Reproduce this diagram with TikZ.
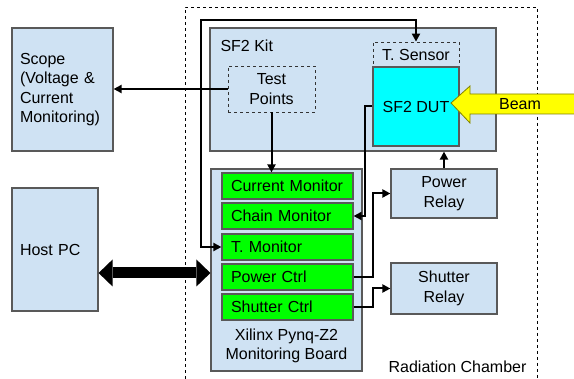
\documentclass[tikz,border=0pt]{standalone}
\usepackage{fontspec}
\setmainfont{Liberation Sans}
\usetikzlibrary{arrows.meta, positioning}
\definecolor{boxBlue}{HTML}{CFE2F3}
\definecolor{boxEdge}{HTML}{595959}
\definecolor{monGreen}{HTML}{00FF00}
\definecolor{dutCyan}{HTML}{00FFFF}
\definecolor{beamYellow}{HTML}{FFFF00}
\definecolor{beamEdge}{HTML}{7F7F00}

\begin{document}
\begin{tikzpicture}[x=1pt, y=-1pt,
    font=\fontsize{16}{19.5}\selectfont,
    blk/.style={draw=boxEdge, line width=1.2pt, fill=boxBlue, inner sep=0pt},
    dashbox/.style={draw=black!80, dashed, line width=0.8pt, inner sep=0pt},
    mon/.style={draw=boxEdge, line width=1.2pt, fill=monGreen, minimum width=131,
      minimum height=26, inner xsep=9pt, inner ysep=0pt, text width=113, align=left},
    wire/.style={line width=2pt, -{Triangle[length=8pt, width=8pt]}}]
    \useasboundingbox (0,0) rectangle (574,379);

    % Radiation chamber
    \draw[dash pattern=on 3pt off 3pt, line width=0.8pt] (185,385) -- (185,7) -- (537,7) -- (537,385);
    \node[anchor=base east] (chamberlbl) at (530,373) {Radiation Chamber};

    % Scope y Host PC
    \node[blk, minimum width=101, minimum height=123, inner xsep=8pt, text width=85, align=left]
      (scope) at (62.5,89.5) {Scope\\(Voltage \&\\Current\\Monitoring)};
    \node[blk, minimum width=86, minimum height=123, inner xsep=8pt, text width=70, align=left]
      (host) at (55,249.5) {Host PC};

    % SF2 Kit
    \node[blk, minimum width=286, minimum height=123] (kit) at (353,89.5) {};
    \node[anchor=base west] (kitlbl) at (217,52) {SF2 Kit};
    \node[dashbox, minimum width=87, minimum height=46, align=center] (tp) at (271.5,89) {Test\\Points};
    \node[dashbox, minimum width=86, minimum height=25] (tsens) at (416,54.5) {T. Sensor};
    \node[draw=boxEdge, line width=1.2pt, fill=dutCyan, minimum width=86, minimum height=79]
      (dut) at (416,106.5) {SF2 DUT};

    % Beam
    \filldraw[fill=beamYellow, draw=beamEdge, line width=0.8pt] (451,103) -- (470,86) -- (470,94)
      -- (580,94) -- (580,114) -- (470,114) -- (470,123) -- cycle;
    \node (beamlbl) at (520,104) {Beam};

    % Pynq board
    \node[blk, minimum width=151, minimum height=202] (board) at (286.5,270) {};
    \node[mon] (curmon) at (287.5,186) {Current Monitor};
    \node[mon] (chmon) at (287.5,216) {Chain Monitor};
    \node[mon] (tmon) at (287.5,247) {T. Monitor};
    \node[mon] (pctrl) at (287.5,277) {Power Ctrl};
    \node[mon] (sctrl) at (287.5,307) {Shutter Ctrl};
    \node[align=center] (boardlbl) at (286.5,346) {Xilinx Pynq-Z2\\Monitoring Board};

    % Relays
    \node[blk, minimum width=106, minimum height=49, align=center] (prelay) at (444,193.5) {Power\\Relay};
    \node[blk, minimum width=106, minimum height=51, align=center] (srelay) at (444,288.5) {Shutter\\Relay};

    % Conexiones
    \coordinate (loop) at (201,20);
    \draw[wire] (tp.west) -- (tp.west -| scope.east);
    \draw[wire] (tp.south) -- (tp.south |- curmon.north);
    \draw[wire, {Triangle[length=8pt, width=8pt]}-{Triangle[length=8pt, width=8pt]}]
      (tsens.north) |- (loop) |- (tmon.west);
    \draw[wire] (dut.west) -- ++(-7,0) |- (chmon.east);
    \draw[wire] (pctrl.east) -- ++(19,0) |- (prelay.west);
    \draw[wire] (sctrl.east) -- ++(19,0) |- (srelay.west);
    \draw[wire] (prelay.north) -- (prelay.north |- kit.south);

    % Host <-> board
    \draw[line width=11pt, {Triangle[length=14pt, width=27pt, line width=0pt]}-{Triangle[length=14pt, width=27pt, line width=0pt]}]
      ([yshift=-23.5pt]host.east) -- ([yshift=-23.5pt]host.east -| board.west);
  \end{tikzpicture}
\end{document}
